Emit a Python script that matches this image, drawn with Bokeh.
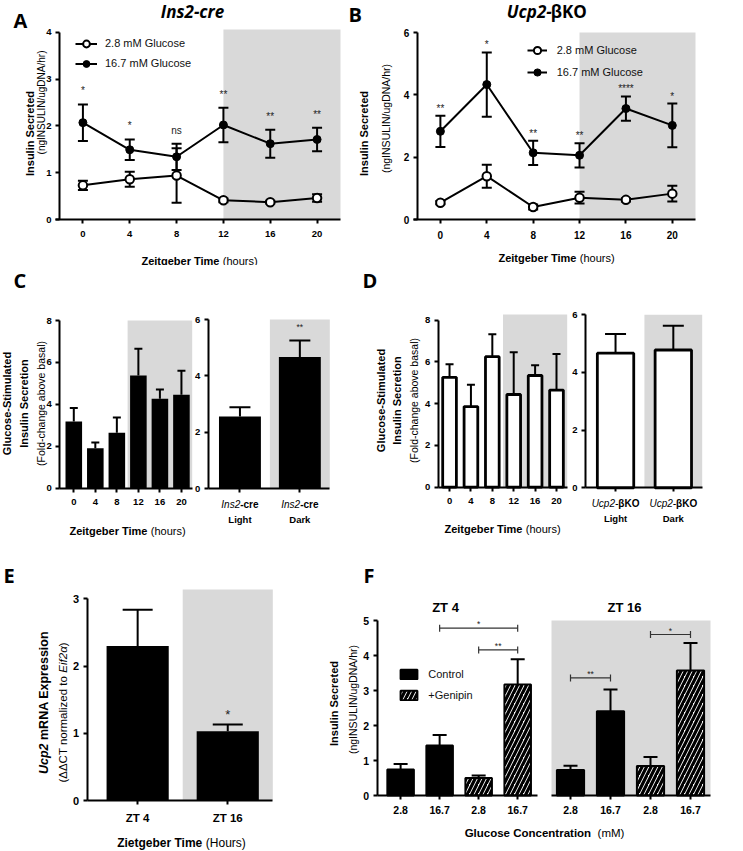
import math
from bokeh.plotting import figure
from bokeh.models import Range1d, Label, Legend, LegendItem
from bokeh.layouts import row, column
from bokeh.embed import file_html
from bokeh.resources import INLINE
from bokeh.core.properties import value

# ===================== DATA =====================
zt_hours = [0, 4, 8, 12, 16, 20]
dark_start = 12  # lights off at ZT12

# A: Ins2-cre insulin secretion (ngINSULIN/ugDNA/hr)
a_low_mean = [0.73, 0.86, 0.94, 0.41, 0.37, 0.46]
a_low_sem = [0.10, 0.16, 0.58, 0.04, 0.03, 0.08]
a_high_mean = [2.07, 1.49, 1.34, 2.02, 1.62, 1.71]
a_high_sem = [0.39, 0.22, 0.28, 0.37, 0.30, 0.25]
a_sig = ["*", "*", "ns", "**", "**", "**"]
a_yticks = [0, 1, 2, 3, 4]

# B: Ucp2-betaKO insulin secretion
b_low_mean = [0.54, 1.39, 0.40, 0.70, 0.63, 0.83]
b_low_sem = [0.05, 0.37, 0.08, 0.19, 0.05, 0.25]
b_high_mean = [2.83, 4.33, 2.14, 2.06, 3.56, 3.02]
b_high_sem = [0.50, 1.03, 0.39, 0.39, 0.39, 0.70]
b_sig = ["**", "*", "**", "**", "****", "*"]
b_yticks = [0, 2, 4, 6]

glucose_labels = ["2.8 mM Glucose", "16.7 mM Glucose"]

# C: Ins2-cre fold change
c_zt_mean = [3.18, 1.91, 2.64, 5.38, 4.27, 4.46]
c_zt_sem = [0.64, 0.27, 0.73, 1.27, 0.44, 1.14]
c_ld_mean = [2.56, 4.67]
c_ld_sem = [0.33, 0.59]
c_ld_sig = ["", "**"]
fold_yticks_zt = [0, 2, 4, 6, 8]
fold_yticks_ld = [0, 2, 4, 6]
phase_names = ["Light", "Dark"]

# D: Ucp2-betaKO fold change
d_zt_mean = [5.26, 3.86, 6.25, 4.44, 5.35, 4.65]
d_zt_sem = [0.63, 1.05, 1.07, 2.02, 0.49, 1.73]
d_ld_mean = [4.67, 4.78]
d_ld_sem = [0.66, 0.84]

# E: Ucp2 mRNA
e_groups = ["ZT 4", "ZT 16"]
e_mean = [2.30, 1.03]
e_sem = [0.54, 0.10]
e_sig = ["", "*"]
e_yticks = [0, 1, 2, 3]

# F: genipin
f_glucose = ["2.8", "16.7", "2.8", "16.7"]
f_treat = ["Control", "Control", "+Genipin", "+Genipin"]
f_zt4_mean = [0.74, 1.43, 0.50, 3.17]
f_zt4_sem = [0.16, 0.30, 0.07, 0.72]
f_zt16_mean = [0.73, 2.41, 0.84, 3.57]
f_zt16_sem = [0.12, 0.62, 0.26, 0.79]
f_zt4_brackets = [(1, 3, 4.78, "*"), (2, 3, 4.16, "**")]
f_zt16_brackets = [(0, 1, 3.36, "**"), (2, 3, 4.60, "*")]
f_yticks = [0, 1, 2, 3, 4, 5]

# ===================== STYLE HELPERS =====================
GREY = "#d9d9d9"
SANS = "Liberation Sans"
HEAD = "Open Sans"
UP = math.pi / 2

_REG = {' ': 278, '(': 333, ')': 333, '-': 333, '.': 278, '/': 278, '*': 389, '+': 584,
        'A': 667, 'B': 667, 'C': 722, 'D': 722, 'E': 667, 'F': 611, 'G': 778, 'H': 722, 'I': 278,
        'K': 667, 'L': 556, 'M': 833, 'N': 722, 'O': 778, 'P': 667, 'R': 722, 'S': 667, 'T': 611,
        'U': 722, 'Z': 611, 'a': 556, 'b': 556, 'c': 500, 'd': 556, 'e': 556, 'f': 278, 'g': 556,
        'h': 556, 'i': 222, 'l': 222, 'm': 833, 'n': 556, 'o': 556, 'p': 556, 'r': 333, 's': 500,
        't': 278, 'u': 556, 'v': 500, 'x': 500, 'z': 500, '\u0394': 668, '\u03b1': 578, '\u03b2': 575}
_BOLD = {' ': 278, '(': 333, ')': 333, '-': 333, '.': 278, '/': 278, '*': 389, '+': 584,
         'A': 722, 'B': 722, 'C': 722, 'D': 722, 'E': 667, 'F': 611, 'G': 778, 'H': 722, 'I': 278,
         'K': 722, 'L': 611, 'M': 833, 'N': 722, 'O': 778, 'P': 667, 'R': 722, 'S': 667, 'T': 611,
         'U': 722, 'Z': 611, 'a': 556, 'b': 611, 'c': 556, 'd': 611, 'e': 556, 'f': 333, 'g': 611,
         'h': 611, 'i': 278, 'l': 278, 'm': 889, 'n': 611, 'o': 611, 'p': 611, 'r': 389, 's': 556,
         't': 333, 'u': 611, 'x': 556, 'z': 500, '\u03b2': 611}


def text_w(s, size, bold, font=SANS):
    tbl = _BOLD if bold else _REG
    w = sum(tbl.get(ch, 556) for ch in s) * size / 1000.0
    if font == HEAD:
        w *= 0.93
    return w


class Panel:
    """A figure whose frame fills the whole canvas; axes are pinned with fixed_location so that
    the reference's axis box (frame=(left,right,top,bottom) px) maps onto xr / yr."""

    def __init__(self, left, top, width, height, frame=None, xr=(0, 1), yr=(0, 1), axes=True,
                 tick_size=9.5, xstand=7, ystand=4, ybounds=None, xbounds=None):
        self.left, self.top, self.width, self.height = left, top, width, height
        if frame is None:
            frame = (left, left + width, top, top + height)
        fl, fr, ft, fb = frame
        kx = (xr[1] - xr[0]) / (fr - fl)
        ky = (yr[1] - yr[0]) / (fb - ft)
        X0 = xr[0] - (fl - left) * kx
        X1 = xr[1] + (left + width - fr) * kx
        Y0 = yr[0] - (top + height - fb) * ky
        Y1 = yr[1] + (ft - top) * ky
        extra = {} if axes else dict(x_axis_type=None, y_axis_type=None)
        p = figure(width=width, height=height, x_range=Range1d(X0, X1), y_range=Range1d(Y0, Y1),
                   output_backend="svg", toolbar_location=None, min_border=0, **extra)
        p.outline_line_color = None
        p.background_fill_color = "white"
        p.border_fill_color = "white"
        p.xgrid.visible = False
        p.ygrid.visible = False
        if axes:
            for ax in p.axis:
                ax.axis_line_color = "black"
                ax.axis_line_width = 2
                ax.major_tick_line_color = "black"
                ax.major_tick_line_width = 2
                ax.major_tick_out = 4
                ax.major_tick_in = 0
                ax.minor_tick_line_color = None
                ax.major_label_text_font = SANS
                ax.major_label_text_font_style = "bold"
                ax.major_label_text_font_size = f"{tick_size}px"
                ax.major_label_text_color = "black"
            p.xaxis.major_label_standoff = xstand
            p.yaxis.major_label_standoff = ystand
            p.xaxis.fixed_location = yr[0]
            p.xaxis.bounds = xbounds if xbounds is not None else xr
            p.yaxis.fixed_location = xr[0]
            p.yaxis.bounds = ybounds if ybounds is not None else yr
        self.xr, self.yr = xr, yr
        self.p = p

    def sy(self, ry):
        return self.top + self.height - ry

    def label(self, rx, ry, text, size, style="normal", font=SANS, align="center", angle=0.0):
        self.p.add_layout(Label(x=rx - self.left, y=self.sy(ry), x_units="screen", y_units="screen",
                                text=text, text_font=font, text_font_size=f"{size}px",
                                text_font_style=style, text_align=align, text_baseline="middle",
                                angle=angle, text_color="black"))

    def runs(self, cx, cy, parts, size, angle=0.0, font=SANS):
        widths = [text_w(t, size, "bold" in st, font) for t, st in parts]
        pos = -sum(widths) / 2
        for (t, st), w in zip(parts, widths):
            lead = text_w(t[:len(t) - len(t.lstrip())], size, "bold" in st, font)
            q = pos + lead
            if angle == 0:
                self.label(cx + q, cy, t.strip(), size, st, font, "left")
            else:
                self.label(cx, cy - q, t.strip(), size, st, font, "left", angle)
            pos += w

    def runs_at(self, xdata, ry, parts, size):
        widths = [text_w(t, size, "bold" in st) for t, st in parts]
        pos = -sum(widths) / 2
        for (t, st), w in zip(parts, widths):
            self.p.add_layout(Label(x=xdata, x_units="data", y=self.sy(ry), y_units="screen",
                                    x_offset=pos, text=t, text_font=SANS,
                                    text_font_size=f"{size}px", text_font_style=st,
                                    text_align="left", text_baseline="middle", text_color="black"))
            pos += w

    def legend(self, items, rx, ry, gw, gh, spacing, standoff, size=11):
        h = len(items) * gh + (len(items) - 1) * spacing
        leg = Legend(items=[LegendItem(label=t, renderers=r) for t, r in items],
                     location=(rx - self.left, self.sy(ry + h)),
                     border_line_color=None, background_fill_alpha=0, padding=0, margin=0,
                     spacing=spacing, glyph_width=gw, glyph_height=gh, label_height=gh,
                     label_standoff=standoff, label_text_font=SANS,
                     label_text_font_size=f"{size}px", label_text_color="#111111")
        self.p.add_layout(leg)

    def shade(self, x0, x1=None):
        self.p.quad(left=[x0], right=[x1 if x1 is not None else self.xr[1]],
                    bottom=[self.yr[0]], top=[self.yr[1]], fill_color=GREY, line_color=None)


def errbars(p, x, mean, sem, cap, both=False, lw=2):
    hi = [m + s for m, s in zip(mean, sem)]
    lo = [m - s for m, s in zip(mean, sem)] if both else list(mean)
    p.segment(x0=x, y0=lo, x1=x, y1=hi, line_color="black", line_width=lw)
    p.scatter(x=x, y=hi, marker="dash", size=cap, line_color="black", line_width=lw)
    if both:
        p.scatter(x=x, y=lo, marker="dash", size=cap, line_color="black", line_width=lw)
    return hi


def stars(p, x, y, texts, size, yoff):
    keep = [i for i, t in enumerate(texts) if t]
    p.text(x=[x[i] for i in keep], y=[y[i] for i in keep], text=[texts[i] for i in keep],
           text_align="center", text_baseline="bottom", y_offset=yoff,
           text_font=value(SANS), text_font_size=value(f"{size}px"), text_color="#222222")


def brackets(p, spec):
    for x0, x1, y, t in spec:
        p.segment(x0=[x0], y0=[y], x1=[x1], y1=[y], line_color="#333333", line_width=1.2)
        p.scatter(x=[x0, x1], y=[y, y], marker="dash", angle=UP, size=7,
                  line_color="#333333", line_width=1.2)
        stars(p, [(x0 + x1) / 2], [y], [t], 8.5, 1)


def line_panel(P, low_m, low_s, high_m, high_s, sig, yticks, star_off):
    p = P.p
    P.shade(dark_start)
    errbars(p, zt_hours, low_m, low_s, 10, both=True)
    errbars(p, zt_hours, high_m, high_s, 10, both=True)
    l1 = p.line(zt_hours, low_m, line_color="black", line_width=2)
    m1 = p.scatter(zt_hours, low_m, marker="circle", size=8.5, fill_color="white",
                   line_color="black", line_width=2)
    l2 = p.line(zt_hours, high_m, line_color="black", line_width=2)
    m2 = p.scatter(zt_hours, high_m, marker="circle", size=8, fill_color="black",
                   line_color="black", line_width=1)
    stars(p, zt_hours, [m + s for m, s in zip(high_m, high_s)], sig, 10, star_off)
    p.xaxis.ticker = zt_hours
    p.yaxis.ticker = yticks
    return [(glucose_labels[0], [l1, m1]), (glucose_labels[1], [l2, m2])]


idx6 = list(range(len(zt_hours)))
dark_idx = zt_hours.index(dark_start) - 0.5
XT = [("Zeitgeber Time", "bold"), (" (hours)", "normal")]

# ===================== A =====================
A = Panel(0, 0, 345, 265, (59, 340, 29, 219), (-2, 22), (0, 4.06), tick_size=9.5,
          ybounds=(0, 4), xbounds=(-2.35, 22))
itemsA = line_panel(A, a_low_mean, a_low_sem, a_high_mean, a_high_sem, a_sig, a_yticks, -8)
A.legend(itemsA, 75, 34.5, 22, 17, 3, 8)
A.label(13, 20, "A", 20, "bold", HEAD, "left")
A.label(192, 11, "Ins2-cre", 17, "bold italic", HEAD)
A.runs(29, 133, [("Insulin Secreted", "bold")], 11, UP)
A.runs(40.5, 102, [("(ngINSULIN/ugDNA/hr)", "normal")], 10, UP)
A.runs(199, 260, XT, 11)

# ===================== B =====================
B = Panel(345, 0, 398, 265, (416.7, 695, 32, 219), (-2, 22), (0, 6), tick_size=10,
          xbounds=(-2.3, 22))
itemsB = line_panel(B, b_low_mean, b_low_sem, b_high_mean, b_high_sem, b_sig, b_yticks, -2)
B.legend(itemsB, 526.7, 41, 20, 18, 4, 10)
B.label(348, 14, "B", 20, "bold", HEAD, "left")
B.runs(545, 11, [("Ucp2-", "bold italic"), ("\u03b2KO", "bold")], 17, font=HEAD)
B.runs(363, 133, [("Insulin Secreted", "bold")], 11, UP)
B.runs(385, 118, [("(ngINSULIN/ugDNA/hr)", "normal")], 10.5, UP)
B.runs(556, 257, XT, 11)


# ===================== C / D =====================
def fold_zt(P, mean, sem, open_bars):
    p = P.p
    P.shade(dark_idx)
    if open_bars:
        p.vbar(x=idx6, top=mean, width=0.64, fill_color="white", line_color="black", line_width=2.8)
    else:
        p.vbar(x=idx6, top=mean, width=0.77, fill_color="black", line_color=None)
    errbars(p, idx6, mean, sem, 8)
    p.xaxis.ticker = idx6
    p.xaxis.major_label_overrides = {i: str(h) for i, h in enumerate(zt_hours)}
    p.yaxis.ticker = fold_yticks_zt


def fold_ld(P, mean, sem, open_bars, geno_parts, row1):
    p = P.p
    P.shade(0.5)
    if open_bars:
        p.vbar(x=[0, 1], top=mean, width=0.63, fill_color="white", line_color="black", line_width=2.8)
    else:
        p.vbar(x=[0, 1], top=mean, width=0.7, fill_color="black", line_color=None)
    errbars(p, [0, 1], mean, sem, 21)
    p.xaxis.ticker = [0, 1]
    p.xaxis.major_label_overrides = {i: ph for i, ph in enumerate(phase_names)}
    p.xaxis.major_label_standoff = 21
    p.yaxis.ticker = fold_yticks_ld
    for i in range(len(phase_names)):
        P.runs_at(i, row1, geno_parts, 10)


def fold_titles(P, cx_list, cy, xcx, xcy):
    P.runs(cx_list[0], cy, [("Glucose-Stimulated", "bold")], 11, UP)
    P.runs(cx_list[1], cy, [("Insulin Secretion", "bold")], 11, UP)
    P.runs(cx_list[2], cy, [("(Fold-change above basal)", "normal")], 10.5, UP)
    P.runs(xcx, xcy, XT, 11)


Cl = Panel(0, 265, 194, 285, (59.3, 191.7, 320, 487.7), (-0.65, 5.5), (0, 8), tick_size=9.5)
fold_zt(Cl, c_zt_mean, c_zt_sem, False)
Cl.label(13, 280, "C", 20, "bold", HEAD, "left")
fold_titles(Cl, [6, 23, 40], 403, 127, 530)

Cr = Panel(194, 265, 161, 285, (207.7, 329.3, 319, 488.3), (-0.53, 1.5), (0, 6), tick_size=9.5)
fold_ld(Cr, c_ld_mean, c_ld_sem, False, [("Ins2", "italic"), ("-cre", "bold")], 504)
stars(Cr.p, [0, 1], [m + s for m, s in zip(c_ld_mean, c_ld_sem)], c_ld_sig, 8.5, -8)

Dl = Panel(355, 265, 216, 285, (437.7, 566.7, 314, 486.7), (-0.53, 5.5), (0, 8.27),
           tick_size=9.5, ybounds=(0, 8))
fold_zt(Dl, d_zt_mean, d_zt_sem, True)
Dl.label(362, 280, "D", 20, "bold", HEAD, "left")
fold_titles(Dl, [380, 396.5, 413], 400, 502, 528)

Dr = Panel(571, 265, 172, 285, (585, 701.7, 314.3, 487.3), (-0.52, 1.5), (0, 6), tick_size=9.5)
fold_ld(Dr, d_ld_mean, d_ld_sem, True, [("Ucp2-", "italic"), ("\u03b2KO", "bold")], 503)

# ===================== E =====================
E = Panel(0, 550, 325, 301, (86.7, 272.3, 589, 800), (-0.56, 1.5), (0, 3.14),
          tick_size=11, ybounds=(0, 3))
E.shade(0.5)
E.p.vbar(x=[0, 1], top=e_mean, width=0.69, fill_color="black", line_color=None)
errbars(E.p, [0, 1], e_mean, e_sem, 30)
stars(E.p, [0, 1], [m + s for m, s in zip(e_mean, e_sem)], e_sig, 13, -3)
E.p.xaxis.ticker = [0, 1]
E.p.xaxis.major_label_overrides = {i: g for i, g in enumerate(e_groups)}
E.p.xaxis.major_label_text_font_size = "11.5px"
E.p.yaxis.ticker = e_yticks
E.label(3, 575, "E", 20, "bold", HEAD, "left")
E.runs(43, 702, [("Ucp2", "bold italic"), (" mRNA Expression", "bold")], 12.5, UP)
E.runs(62, 712, [("(\u0394\u0394CT normalized to", "normal"), (" Eif2\u03b1", "italic"), (")", "normal")], 11.5, UP)
E.runs(181, 842, [("Zietgeber Time", "bold"), (" (Hours)", "normal")], 12)


# ===================== F =====================
def f_panel(P, mean, sem, spec):
    p = P.p
    ctrl = [i for i, t in enumerate(f_treat) if t == "Control"]
    gen = [i for i, t in enumerate(f_treat) if t != "Control"]
    rc = p.vbar(x=ctrl, top=[mean[i] for i in ctrl], width=0.68, fill_color="black",
                line_color="black", line_width=2)
    rg = p.vbar(x=gen, top=[mean[i] for i in gen], width=0.68, fill_color="white",
                line_color="black", line_width=2, hatch_pattern="/", hatch_color="black",
                hatch_weight=3.2, hatch_scale=9)
    errbars(p, list(range(len(mean))), mean, sem, 14)
    brackets(p, spec)
    p.xaxis.ticker = list(range(len(mean)))
    p.xaxis.major_label_overrides = {i: g for i, g in enumerate(f_glucose)}
    p.yaxis.ticker = f_yticks
    return rc, rg


Fl = Panel(325, 550, 215, 271, (376.7, 536.7, 620, 795), (-0.6, 3.5), (0, 5), tick_size=10.5, xstand=6)
rc, rg = f_panel(Fl, f_zt4_mean, f_zt4_sem, f_zt4_brackets)
Fl.legend([(f_treat[0], [rc]), (f_treat[2], [rg])], 398.3, 667.7, 21, 12, 9, 9)
Fl.label(363, 575, "F", 20, "bold", HEAD, "left")
Fl.label(445, 607, "ZT 4", 13, "bold")
Fl.runs(333, 703, [("Insulin Secreted", "bold")], 11, UP)
Fl.runs(352, 699, [("(ngINSULIN/ugDNA/hr)", "normal")], 10.5, UP)

Fr = Panel(540, 550, 203, 271, (551, 710, 620, 795), (-0.475, 3.5), (0, 5), tick_size=10.5, xstand=6)
Fr.shade(Fr.xr[0])
f_panel(Fr, f_zt16_mean, f_zt16_sem, f_zt16_brackets)
Fr.p.yaxis.visible = False
Fr.label(624, 607, "ZT 16", 13, "bold")

Fx = Panel(325, 821, 418, 30, axes=False)
Fx.runs(544, 832, [("Glucose Concentration", "bold"), ("  (mM)", "normal")], 11.5)

layout = column(
    row(A.p, B.p, spacing=0),
    row(Cl.p, Cr.p, Dl.p, Dr.p, spacing=0),
    row(E.p, column(row(Fl.p, Fr.p, spacing=0), Fx.p, spacing=0), spacing=0),
    spacing=0,
)

open("out.html", "w", encoding="utf-8").write(file_html(layout, INLINE))
